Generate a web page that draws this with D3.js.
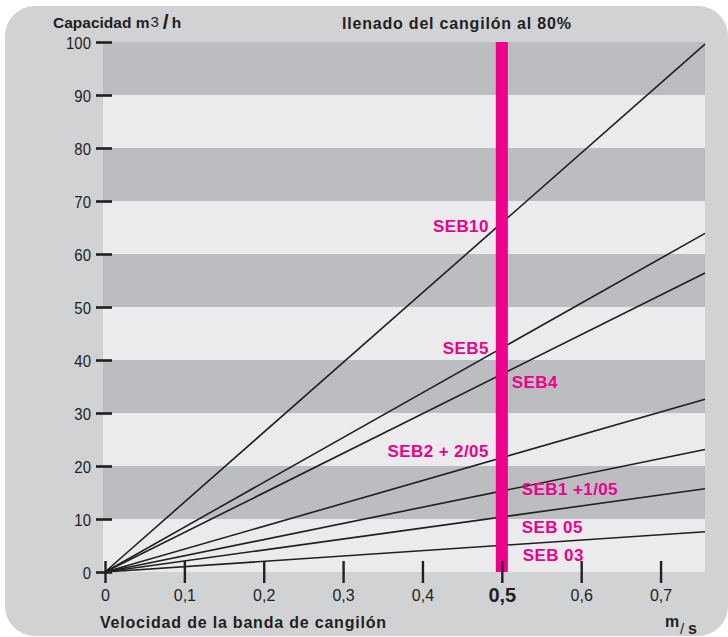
<!DOCTYPE html>
<html><head><meta charset="utf-8">
<script src="https://cdn.jsdelivr.net/npm/d3@7"></script>
<style>
html,body{margin:0;padding:0;background:#fff;}
svg{display:block;font-family:"Liberation Sans",Arial,Helvetica,sans-serif;}
</style></head>
<body>
<svg id="chart" width="728" height="637"></svg>
<script>
// ---- data ----
const series = ["SEB10", "SEB5", "SEB4", "SEB2 + 2/05", "SEB1 +1/05", "SEB 05", "SEB 03"];
const speedMax = 0.756;                       // m/s at the right edge of the chart
const capacityAtMax = [99.6, 63.9, 56.4, 32.6, 23.1, 15.7, 7.6]; // m3/h at speedMax
const highlightSpeed = 0.5;
const xTicks = [0, 0.1, 0.2, 0.3, 0.4, 0.5, 0.6, 0.7];
const xTickLabels = ["0", "0,1", "0,2", "0,3", "0,4", "0,5", "0,6", "0,7"];
const yTicks = [0, 10, 20, 30, 40, 50, 60, 70, 80, 90, 100];
const yTickLabels = ["0", "10", "20", "30", "40", "50", "60", "70", "80", "90", "100"];

// label layout (side of the highlight bar, offsets in px)
const labelLayout = [
  {side: "left",  dx: -13, dy: 9},
  {side: "left",  dx: -13, dy: 6},
  {side: "right", dx: 10,  dy: 14},
  {side: "left",  dx: -13, dy: -1},
  {side: "right", dx: 20,  dy: 4},
  {side: "right", dx: 20,  dy: 16},
  {side: "right", dx: 21,  dy: 16}
];

const ink = "#231f20", magenta = "#ec008c";
const svg = d3.select("#chart");

const x = d3.scaleLinear().domain([0, speedMax]).range([105, 705]);
const y = d3.scaleLinear().domain([0, 100]).range([572, 42]);

// outer panel
svg.append("rect").attr("x", 5).attr("y", 6).attr("width", 723).attr("height", 630)
  .attr("rx", 30).attr("ry", 30).attr("fill", "#d1d2d4");

// bands
const bands = yTicks.slice(0, -1);
svg.append("g").selectAll("rect").data(bands).join("rect")
  .attr("x", x(0) - 2)
  .attr("width", x(speedMax) - x(0) + 2)
  .attr("y", d => y(d + 10))
  .attr("height", d => y(d) - y(d + 10))
  .attr("fill", d => (d / 10) % 2 === 1 ? "#bcbdc0" : "#ebebed");

// lines
const lineGen = d3.line().x(d => x(d[0])).y(d => y(d[1]));
svg.append("g").selectAll("path").data(capacityAtMax).join("path")
  .attr("d", v => lineGen([[0, 0], [speedMax, v]]))
  .attr("fill", "none").attr("stroke", ink).attr("stroke-width", 1.6);

// highlight bar
svg.append("rect")
  .attr("x", x(highlightSpeed) - 6).attr("width", 12)
  .attr("y", y(100)).attr("height", y(0) - y(100))
  .attr("fill", magenta);

// y axis
const yAxis = svg.append("g").attr("transform", `translate(${x(0)},0)`)
  .call(d3.axisLeft(y).tickValues(yTicks).tickFormat((d, i) => yTickLabels[i]));
yAxis.select(".domain").remove();
yAxis.selectAll(".tick line").attr("x1", -9).attr("x2", 7)
  .attr("stroke", ink).attr("stroke-width", 2.6);
yAxis.selectAll(".tick text")
  .attr("x", null).attr("dy", null)
  .attr("transform", "translate(-14,6) scale(0.88,1)")
  .attr("fill", ink).attr("font-size", 17).attr("font-family", null)
  .attr("text-anchor", "end");

// x axis
const xAxis = svg.append("g").attr("transform", `translate(0,${y(0)})`)
  .call(d3.axisBottom(x).tickValues(xTicks).tickFormat((d, i) => xTickLabels[i]));
xAxis.select(".domain").remove();
xAxis.selectAll(".tick line").attr("y1", -11).attr("y2", 11)
  .attr("stroke", ink).attr("stroke-width", 2.4);
xAxis.selectAll(".tick text")
  .attr("dy", null)
  .attr("fill", ink).attr("font-family", null)
  .attr("font-size", d => d === highlightSpeed ? 20 : 16)
  .attr("font-weight", d => d === highlightSpeed ? "bold" : "normal")
  .attr("y", d => d === highlightSpeed ? 30 : 29);

// series labels
svg.append("g").selectAll("text").data(series).join("text")
  .attr("x", (d, i) => x(highlightSpeed) + labelLayout[i].dx)
  .attr("y", (d, i) => y(capacityAtMax[i] * highlightSpeed / speedMax) + labelLayout[i].dy)
  .attr("text-anchor", (d, i) => labelLayout[i].side === "left" ? "end" : "start")
  .attr("fill", magenta).attr("font-weight", "bold").attr("font-size", 17)
  .attr("letter-spacing", 0.4)
  .text(d => d);

// titles
const t1 = svg.append("text").attr("x", 53).attr("y", 28).attr("fill", ink).attr("font-weight", "bold");
t1.append("tspan").attr("font-size", 15.5).text("Capacidad m");
t1.append("tspan").attr("font-size", 15).attr("font-weight", "normal").attr("dx", 1).attr("dy", -1).text("3");
t1.append("tspan").attr("font-size", 21).attr("dx", 4).attr("dy", 2).text("/");
t1.append("tspan").attr("font-size", 15.5).attr("dx", 3).attr("dy", -1).text("h");

svg.append("text").attr("x", 342).attr("y", 29).attr("fill", ink)
  .attr("font-weight", "bold").attr("font-size", 16).attr("letter-spacing", 0.8)
  .text("llenado del cangilón al 80%");

svg.append("text").attr("x", 100).attr("y", 628).attr("fill", ink)
  .attr("font-weight", "bold").attr("font-size", 16).attr("letter-spacing", 0.8)
  .text("Velocidad de la banda de cangilón");

const u = svg.append("g").attr("fill", ink).attr("font-weight", "bold");
u.append("text").attr("x", 665).attr("y", 627).attr("font-size", 16).text("m");
u.append("text").attr("x", 680).attr("y", 634).attr("font-size", 15).attr("font-weight", "normal").text("/");
u.append("text").attr("x", 688).attr("y", 634).attr("font-size", 16).text("s");
</script>
</body></html>
